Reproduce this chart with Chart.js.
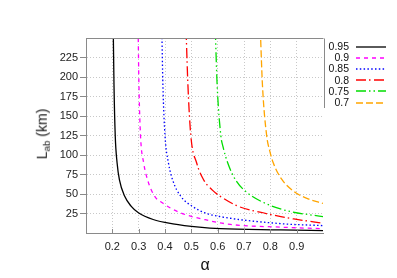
<!DOCTYPE html>
<html><head><meta charset="utf-8">
<script src="https://cdn.jsdelivr.net/npm/chart.js@4/dist/chart.umd.min.js"></script>
<style>
html,body{margin:0;padding:0;background:#fff;}
#wrap{position:relative;width:397px;height:278px;overflow:hidden;}
canvas{position:absolute;left:0;top:0;}
#ylab{position:absolute;left:43px;top:134px;transform:translate(-50%,-50%) rotate(-90deg);font:14px "Liberation Sans",Arial,sans-serif;white-space:nowrap;color:#111;}
#ylab sub{font-size:70%;vertical-align:-0.35em;}
#xlab{position:absolute;left:205px;top:265px;transform:translate(-50%,-50%);font:16px "Liberation Sans",Arial,sans-serif;color:#111;}
#legend{position:absolute;left:320px;top:41px;font:10.5px "Liberation Sans",Arial,sans-serif;color:#111;}
.row{display:flex;align-items:center;height:11.2px;}
.row span{display:inline-block;width:29px;text-align:right;line-height:11px;}
.row svg{margin-left:7px;display:block;}
</style></head>
<body>
<div id="wrap">
<canvas id="c" width="397" height="278"></canvas>
<div id="ylab">L<sub>ab</sub> (km)</div>
<div id="xlab">α</div>
<div id="legend"></div>
</div>
<script>
// Legend labels (series names)
const seriesNames = ["0.95", "0.9", "0.85", "0.8", "0.75", "0.7"];

// Series values: alpha (x) and L_ab in km (y)
const alpha095 = [0.2035, 0.2063, 0.211, 0.218, 0.227, 0.247, 0.271, 0.299, 0.355, 0.43, 0.53, 0.61, 0.84, 1.0];
const L095     = [260, 190, 125, 90, 68, 47, 34.4, 26, 17.3, 11.8, 7.5, 5.5, 4.0, 3.0];

const alpha09 = [0.298, 0.301, 0.307, 0.319, 0.334, 0.361, 0.388, 0.458, 0.553, 0.648, 0.84, 1.0];
const L09     = [260, 190, 125, 90, 68, 47, 39, 26, 17, 11, 7.5, 5.5];

const alpha085 = [0.388, 0.392, 0.400, 0.413, 0.429, 0.46, 0.505, 0.55, 0.61, 0.84, 1.0];
const L085     = [260, 190, 125, 90, 68, 47, 34, 26, 21, 12, 9.5];

const alpha08 = [0.480, 0.487, 0.498, 0.52, 0.547, 0.58, 0.61, 0.68, 0.79, 0.84, 0.889, 1.0];
const L08     = [260, 190, 125, 90, 68, 55, 47, 34, 24.5, 21, 18, 12.5];

const alpha075 = [0.591, 0.598, 0.612, 0.620, 0.638, 0.668, 0.711, 0.788, 0.87, 1.0];
const L075     = [260, 190, 125, 111, 90, 68, 52, 37, 28, 21];

const alpha07 = [0.762, 0.770, 0.786, 0.798, 0.811, 0.843, 0.895, 0.95, 1.0];
const L07     = [260, 190, 125, 105, 90, 69, 52, 43, 38];

// Tick label values
const xTickLabels = [0.2, 0.3, 0.4, 0.5, 0.6, 0.7, 0.8, 0.9];
const yTickLabels = [25, 50, 75, 100, 125, 150, 175, 200, 225];

const alphas = [alpha095, alpha09, alpha085, alpha08, alpha075, alpha07];
const Ls = [L095, L09, L085, L08, L075, L07];
const colors = ["#000000", "#ff00ff", "#0000ff", "#ff0000", "#00dd00", "#ffa500"];
const dashes = [[], [4, 4], [1.5, 2.3], [10, 3, 1.5, 3.5], [10, 3, 1.5, 3, 1.5, 3], [7, 3]];

const datasets = seriesNames.map((name, i) => ({
  label: name,
  data: alphas[i].map((a, j) => ({x: a, y: Ls[i][j]})),
  borderColor: colors[i],
  borderWidth: 1.3,
  borderDash: dashes[i],
  pointRadius: 0,
  fill: false,
  cubicInterpolationMode: 'monotone'
}));

const tickFont = {family: "'Liberation Sans', Arial, sans-serif", size: 11};
const AXIS = '#8a8a8a';
const GRID = '#c8c8c8';

const framePlugin = {
  id: 'frame',
  afterDraw(chart) {
    const {ctx, chartArea: a, scales} = chart;
    ctx.save();
    ctx.strokeStyle = AXIS;
    ctx.lineWidth = 1;
    ctx.setLineDash([]);
    ctx.beginPath();
    ctx.moveTo(Math.round(a.left) + 0.5, Math.round(a.top) + 0.5);
    ctx.lineTo(Math.round(a.right) + 0.5, Math.round(a.top) + 0.5);
    ctx.stroke();
    ctx.beginPath();
    ctx.moveTo(Math.round(a.right) + 1.5, Math.round(a.top) + 0.5);
    ctx.lineTo(Math.round(a.right) + 1.5, 108);
    ctx.stroke();
    xTickLabels.forEach(v => {
      const x = Math.round(scales.x.getPixelForValue(v)) + 0.5;
      ctx.beginPath();
      ctx.moveTo(x, a.bottom);
      ctx.lineTo(x, a.bottom - 4);
      ctx.stroke();
    });
    ctx.restore();
  }
};

const near = (v, list) => list.some(t => Math.abs(t - v) < 1e-6);

new Chart(document.getElementById('c'), {
  type: 'line',
  data: {datasets},
  options: {
    responsive: false,
    animation: false,
    devicePixelRatio: 1,
    layout: {padding: {left: 0, right: 74, top: 38, bottom: 0}},
    plugins: {legend: {display: false}, tooltip: {enabled: false}},
    scales: {
      x: {
        type: 'linear', min: 0.1, max: 1.0,
        ticks: {
          stepSize: 0.1, autoSkip: false, maxRotation: 0, padding: 3.5,
          font: tickFont, color: '#222',
          callback: v => near(v, xTickLabels) ? v.toFixed(1) : ''
        },
        grid: {
          color: c => near(c.tick.value, xTickLabels) ? GRID : 'rgba(0,0,0,0)',
          tickLength: 4, tickColor: 'rgba(0,0,0,0)', lineWidth: 1
        },
        border: {color: AXIS, width: 1, dash: [1, 2]},
        afterFit: s => { s.height = 45; }
      },
      y: {
        min: 0, max: 250,
        ticks: {
          stepSize: 25, padding: 2, font: tickFont, color: '#222',
          callback: v => near(v, yTickLabels) ? String(v) : ''
        },
        grid: {
          color: c => near(c.tick.value, yTickLabels) ? GRID : 'rgba(0,0,0,0)',
          tickLength: 6,
          tickColor: c => near(c.tick.value, yTickLabels) ? AXIS : 'rgba(0,0,0,0)',
          tickBorderDash: [], lineWidth: 1
        },
        border: {color: AXIS, width: 1, dash: [1, 2]},
        afterFit: s => { s.width = 86; }
      }
    }
  },
  plugins: [framePlugin]
});

const leg = document.getElementById('legend');
datasets.forEach(ds => {
  const row = document.createElement('div');
  row.className = 'row';
  const sp = document.createElement('span');
  sp.textContent = ds.label;
  row.appendChild(sp);
  const svgNS = 'http://www.w3.org/2000/svg';
  const svg = document.createElementNS(svgNS, 'svg');
  svg.setAttribute('width', '30'); svg.setAttribute('height', '4');
  const ln = document.createElementNS(svgNS, 'line');
  ln.setAttribute('x1', '0'); ln.setAttribute('x2', '30');
  ln.setAttribute('y1', '2'); ln.setAttribute('y2', '2');
  ln.setAttribute('stroke', ds.borderColor);
  ln.setAttribute('stroke-width', '1.3');
  if (ds.borderDash.length) ln.setAttribute('stroke-dasharray', ds.borderDash.join(' '));
  svg.appendChild(ln);
  row.appendChild(svg);
  leg.appendChild(row);
});
</script>
</body></html>
